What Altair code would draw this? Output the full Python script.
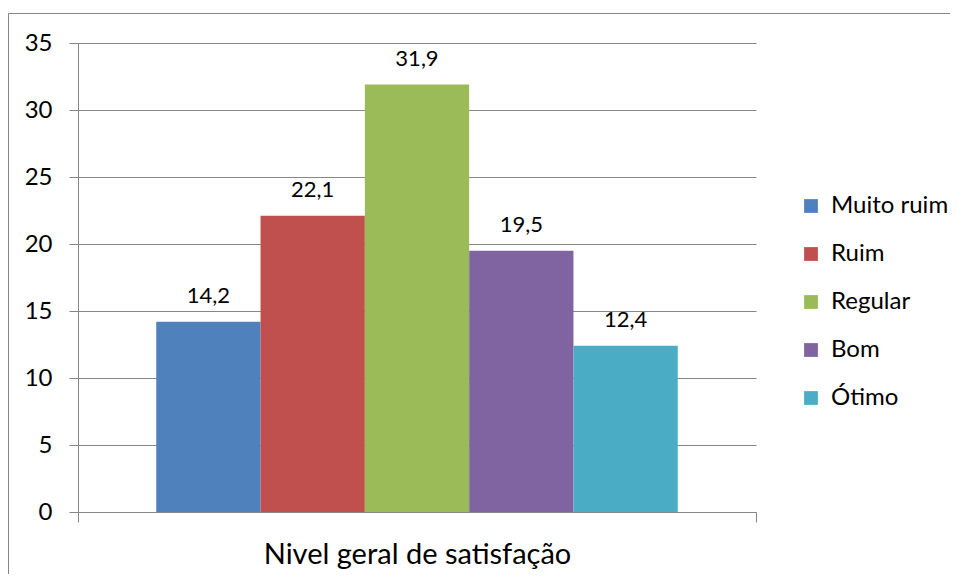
import altair as alt
import pandas as pd

group = ["Nivel geral de satisfação"]
categories = ["Muito ruim", "Ruim", "Regular", "Bom", "Ótimo"]
values = [14.2, 22.1, 31.9, 19.5, 12.4]
colors = ["#4F81BD", "#C0504D", "#9BBB59", "#8064A2", "#4BACC6"]
y_ticks = [0, 5, 10, 15, 20, 25, 30, 35]

df = pd.DataFrame({
    "grupo": group * len(categories),
    "cat": categories,
    "valor": values,
    "rotulo": [f"{v:.1f}".replace(".", ",") for v in values],
})

FONT = "Lato"
GRAY = "#868686"

x_enc = alt.X(
    "grupo:N",
    scale=alt.Scale(paddingInner=0, paddingOuter=0),
    axis=alt.Axis(
        title=None, labelAngle=0, labelFont=FONT, labelFontSize=29, labelColor="black",
        labelBaseline="alphabetic", labelPadding=41, labelLimit=0, domainColor=GRAY,
        domainWidth=1, tickColor=GRAY, tickSize=10, tickBand="extent", ticks=True, grid=False,
    ),
)
xo_enc = alt.XOffset("cat:N", sort=categories,
                     scale=alt.Scale(paddingOuter=0.75, paddingInner=0))
y_enc = alt.Y(
    "valor:Q",
    scale=alt.Scale(domain=[0, 35], nice=False),
    axis=alt.Axis(
        title=None, values=y_ticks, labelFont=FONT, labelFontSize=24, labelColor="black",
        labelPadding=17, tickSize=9, tickColor=GRAY, domainColor=GRAY, gridColor=GRAY,
        gridWidth=1, grid=True,
    ),
)

base = alt.Chart(df)
one = base.transform_filter(alt.datum.cat == "Muito ruim")

frame_left = one.mark_rule(stroke=GRAY, strokeWidth=1).encode(
    x=alt.value(-69.5), y=alt.value(-29.5), y2=alt.value(2000)
)
frame_top = one.mark_rule(stroke=GRAY, strokeWidth=1).encode(
    x=alt.value(-69.5), x2=alt.value(2000), y=alt.value(-29.5)
)

bars = base.mark_bar().encode(
    x=x_enc,
    xOffset=xo_enc,
    y=y_enc,
    color=alt.Color(
        "cat:N", sort=categories,
        scale=alt.Scale(domain=categories, range=colors),
        legend=alt.Legend(
            title=None, orient="none", legendX=721, legendY=151, padding=0,
            symbolType="square", symbolSize=190, symbolStrokeWidth=0,
            labelFont=FONT, labelFontSize=24, labelColor="black", labelOffset=8,
            rowPadding=24,
        ),
    ),
)

labels = base.mark_text(font=FONT, fontSize=22, color="black", baseline="alphabetic",
                        dy=-19).encode(
    x=alt.X("grupo:N"),
    xOffset=alt.XOffset("cat:N", sort=categories),
    y=alt.Y("valor:Q"),
    text="rotulo:N",
)

chart = alt.layer(frame_left, frame_top, bars, labels).properties(
    width=678, height=469,
    autosize=alt.AutoSizeParams(type="none"),
    padding={"left": 70, "top": 35, "right": 194, "bottom": 62},
    background="white",
).configure_view(stroke=None)

chart.save("out.html", embed_options={"renderer": "svg", "actions": False})
